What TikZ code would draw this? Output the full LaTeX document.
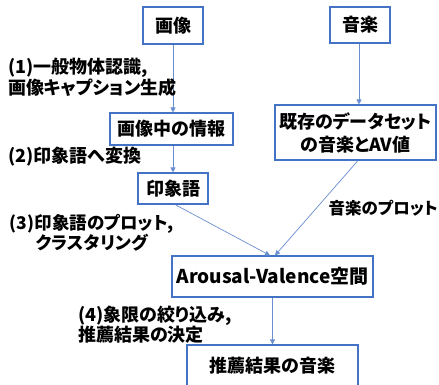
\documentclass[tikz,border=0pt]{standalone}
\usepackage{fontspec}
\setmainfont{Noto Sans CJK JP}[RawFeature=+palt]
\usetikzlibrary{arrows.meta}
\definecolor{boxblue}{HTML}{4472C4}
\definecolor{linkblue}{HTML}{6A8FD0}
\begin{document}
\begin{tikzpicture}[x=1pt,y=-1pt,
  box/.style={draw=boxblue,line width=1.1pt,fill=white,inner sep=0pt,align=center,
    font=\fontsize{18}{23}\selectfont\bfseries},
  link/.style={draw=linkblue,line width=0.7pt,-{Triangle[length=5pt,width=5pt]}},
  lbl/.style={inner sep=0pt,font=\fontsize{18}{20.5}\selectfont\bfseries}]
\useasboundingbox (0,0) rectangle (439,385);
\node[box,minimum width=60pt,minimum height=37pt] (img) at (173,25.5) {画像};
\node[box,minimum width=60pt,minimum height=36pt] (mus) at (360,25) {音楽};
\node[box,minimum width=123pt,minimum height=32pt] (info) at (171.5,129) {画像中の情報};
\node[box,minimum width=161pt,minimum height=55pt] (ds) at (355.5,132.5) {既存のデータセット\\の音楽とAV値};
\node[box,minimum width=70pt,minimum height=31pt] (imp) at (173,188.5) {印象語};
\node[box,minimum width=201pt,minimum height=41pt,font=\fontsize{19}{23}\selectfont\bfseries] (av) at (272.5,276.5) {Arousal-Valence空間};
\node[box,minimum width=171pt,minimum height=42pt] (rec) at (272.5,366) {推薦結果の音楽};
\draw[link] (img.south) -- (img.south |- info.north);
\draw[link] ([xshift=-1pt]mus.south) -- ([xshift=-1pt]mus.south |- ds.north);
\draw[link] (imp.north |- info.south) -- (imp.north);
\draw[link] ([xshift=2pt]imp.south) -- ([xshift=-2.5pt]av.north);
\draw[link] ([xshift=2.5pt]ds.south) -- ([xshift=2.5pt]av.north);
\draw[link] (av.south) -- (rec.north);
\node[lbl,anchor=west,align=left] (l1) at (8,77.5) {(1)一般物体認識,\\画像キャプション生成};
\node[lbl,anchor=west] (l2) at (8,157) {(2)印象語へ変換};
\node[lbl,align=center,font=\fontsize{17.5}{20}\selectfont\bfseries] (l3) at (92,233) {(3)印象語のプロット,\\クラスタリング};
\node[lbl,anchor=east,font=\fontsize{16.5}{20}\selectfont\bfseries] (l4) at (438,208) {音楽のプロット};
\node[lbl,anchor=west,align=left] (l5) at (78,324.5) {(4)象限の絞り込み,\\推薦結果の決定};
\end{tikzpicture}
\end{document}
